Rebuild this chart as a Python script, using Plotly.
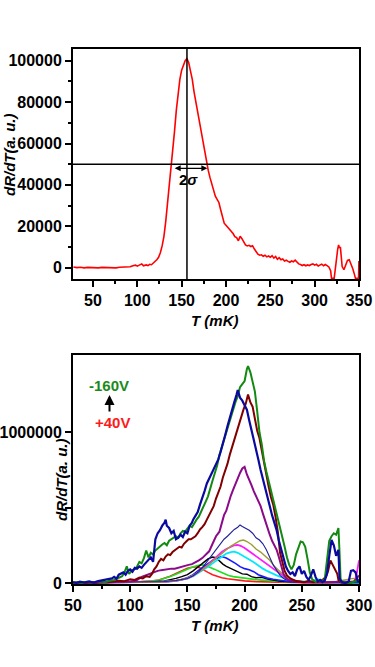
import plotly.graph_objects as go

# ---- top panel: dR/dT of one sample ----
T_TOP = [28, 32, 36, 40, 44, 48, 52, 56, 60, 64, 68, 72, 76, 80, 84, 88, 92, 95, 98, 100,
         103, 105, 107, 110, 112, 114, 116, 118, 120, 122, 124, 126, 128, 130, 132, 134, 136, 138, 140, 142,
         144, 146, 148, 150, 152, 154, 156, 158, 160, 162, 164, 166, 168, 170, 172, 174, 176, 178, 180, 182,
         184, 186, 188, 190, 192, 194, 196, 198, 200, 202, 204, 206, 208, 210, 212, 214, 216, 218, 220, 222,
         224, 226, 228, 230, 232, 234, 236, 238, 240, 242, 244, 246, 248, 250, 252, 254, 256, 258, 260, 262,
         264, 266, 268, 270, 272, 274, 276, 278, 280, 282, 284, 286, 288, 290, 292, 294, 296, 298, 300, 302,
         304, 306, 308, 310, 312, 314, 316, 318, 319, 322, 323, 325, 326, 327, 328, 329, 330, 331, 333, 335,
         337, 339, 341, 343, 345, 346, 349.5, 349.9]
R_TOP = [300, 0, 200, -100, 100, 0, 200, -100, 100, 0, 200, 100, -100, 200, 300, 100, 400, 900, 1200, 700,
         1500, 1800, 900, 1300, 1000, 1600, 1400, 2200, 2900, 3800, 5000, 7200, 10500, 15000, 22000, 30500, 38000, 46000, 56000, 66000,
         76000, 84000, 91000, 95500, 98000, 100000, 101000, 99000, 95000, 91000, 85000, 80000, 76000, 70000, 65000, 60000, 55000, 50500, 47000, 43500,
         40500, 37500, 34500, 33000, 31500, 28000, 24500, 21500, 20500, 19500, 18800, 18000, 16500, 15000, 14500, 13000, 15200, 14000, 12500, 11000,
         10500, 10800, 10200, 10600, 9000, 7500, 6500, 6000, 6200, 5500, 6000, 5200, 5600, 5000, 5800, 4600, 5400, 4000, 4800, 3800,
         4200, 3200, 3600, 3000, 2600, 3200, 2800, 3600, 2400, 1800, 1500, 1000, 1400, 900, 1300, 1000, 1500, 1800, 1200, 1600,
         800, 1300, 1700, 900, 1500, 1000, 300, -1500, -5200, -5200, -1000, 4000, 9000, 11000, 9500, 10000, 4000, 500, -1000, 1500,
         3500, 3800, 2000, -500, -3500, -5200, -5200, 3200]

PEAK_T = 156
HALF_MAX = 50000
SIGMA_LO = 140.5
SIGMA_HI = 179
SIGMA_Y = 48000

# ---- bottom panel: one curve per gate voltage, values in thousands ----
T_RED = [50, 60, 70, 80, 90, 100, 110, 115, 120, 125, 130, 135, 140, 145, 150, 155, 158, 161, 164, 168,
         172, 176, 180, 185, 190, 195, 200, 210, 220, 230, 240, 250, 260, 270, 280, 290, 300]
V_RED = [2, 0, 3, 1, 4, 5, 8, 10, 14, 20, 30, 45, 62, 82, 98, 106, 108, 100, 86, 70,
         55, 44, 35, 28, 22, 17, 14, 9, 6, 4, 3, 2, 2, 1, 2, 1, 0]

T_GREEN = [50, 60, 70, 80, 90, 100, 110, 115, 120, 125, 130, 135, 140, 145, 150, 155, 160, 163, 166, 170,
           174, 178, 182, 186, 190, 195, 200, 205, 210, 215, 220, 230, 240, 250, 260, 270, 280, 290, 300]
V_GREEN = [0, 3, 1, 4, 2, 5, 7, 9, 12, 18, 28, 42, 58, 75, 92, 108, 118, 120, 115, 105,
           90, 76, 62, 50, 42, 36, 31, 26, 22, 19, 16, 11, 7, 5, 3, 4, 2, 3, 1]

T_BLACK = [50, 70, 90, 110, 120, 130, 135, 140, 145, 150, 155, 160, 164, 168, 172, 175, 178, 181, 184, 187,
           190, 194, 198, 202, 206, 210, 215, 220, 225, 230, 240, 250, 260, 270, 280, 290, 300]
V_BLACK = [1, 2, 3, 5, 8, 14, 20, 30, 42, 55, 80, 108, 135, 160, 172, 168, 145, 125, 110, 100,
           90, 75, 60, 58, 42, 35, 38, 25, 18, 12, 8, 5, 4, 3, 2, 2, 1]

T_BLUE = [50, 70, 90, 110, 120, 130, 140, 145, 150, 155, 160, 164, 168, 172, 176, 180, 184, 188, 192, 196,
          200, 204, 208, 212, 216, 220, 225, 230, 235, 240, 250, 260, 270, 280, 290, 300]
V_BLUE = [1, 2, 3, 4, 6, 9, 15, 22, 35, 55, 85, 108, 128, 150, 165, 175, 165, 150, 130, 108,
          95, 88, 75, 55, 45, 32, 25, 18, 12, 8, 5, 10, 6, 3, 2, 1]

T_CYAN = [50, 70, 90, 110, 130, 140, 150, 155, 160, 164, 168, 172, 176, 180, 184, 188, 191, 194, 197, 200,
          204, 208, 212, 216, 220, 224, 228, 232, 236, 240, 245, 250, 255, 260, 264, 268, 272, 280, 290, 300]
V_CYAN = [1, 2, 3, 4, 8, 14, 28, 45, 68, 88, 108, 130, 152, 175, 195, 205, 208, 200, 188, 175,
          155, 138, 115, 95, 78, 62, 50, 38, 28, 20, 14, 10, 8, 15, 25, 12, 5, 3, 2, 1]

T_MAGENTA = [50, 70, 90, 110, 130, 140, 150, 155, 160, 164, 168, 172, 176, 180, 184, 188, 191, 194, 197, 200,
             204, 208, 212, 216, 220, 224, 228, 232, 236, 240, 250, 260, 270, 280, 290, 296, 298, 300]
V_MAGENTA = [1, 2, 3, 4, 8, 14, 30, 48, 72, 95, 120, 148, 180, 205, 225, 240, 250, 252, 245, 232,
             210, 190, 168, 145, 125, 100, 80, 55, 35, 20, 8, 5, 3, 2, 3, 10, 60, 150]

T_OLIVE = [50, 70, 90, 110, 130, 140, 150, 155, 160, 164, 168, 172, 176, 180, 184, 188, 192, 196, 199, 202,
           206, 210, 214, 218, 222, 226, 230, 234, 238, 242, 250, 260, 270, 280, 290, 295, 300]
V_OLIVE = [1, 2, 3, 4, 8, 15, 32, 50, 72, 92, 118, 145, 170, 195, 220, 245, 265, 280, 285, 275,
           255, 225, 205, 175, 150, 110, 80, 55, 35, 20, 8, 5, 3, 10, 25, 30, 20]

T_NAVY = [50, 70, 90, 110, 130, 140, 150, 155, 160, 164, 167, 170, 173, 176, 179, 182, 185, 188, 191, 194,
          196, 198, 201, 204, 207, 210, 213, 216, 219, 222, 225, 228, 231, 235, 240, 250, 260, 270, 280, 290, 300]
V_NAVY = [1, 2, 3, 5, 10, 16, 30, 48, 75, 110, 140, 170, 200, 225, 260, 290, 310, 335, 355, 370,
          385, 375, 365, 350, 330, 300, 285, 260, 220, 170, 120, 85, 50, 25, 12, 6, 4, 3, 2, 2, 1]

T_PURPLE = [50, 60, 70, 80, 90, 100, 105, 110, 115, 118, 121, 124, 127, 130, 133, 136, 139, 142, 145, 148,
            151, 154, 157, 160, 163, 166, 169, 172, 175, 178, 180, 182, 184, 186, 188, 190, 192, 194, 196, 198,
            200, 202, 204, 206, 208, 210, 212, 214, 216, 218, 220, 222, 224, 226, 228, 230, 232, 234, 236, 238,
            242, 246, 250, 260, 270, 280, 290, 296, 300]
V_PURPLE = [0, 3, 0, 5, 8, 10, 15, 40, 55, 60, 70, 80, 85, 90, 90, 95, 95, 100, 105, 110,
            120, 125, 135, 150, 165, 185, 210, 260, 310, 340, 400, 450, 480, 540, 580, 620, 660, 700, 730, 760,
            770, 720, 690, 650, 610, 580, 550, 510, 460, 410, 360, 320, 280, 250, 220, 170, 110, 60, 35, 20,
            15, 8, 5, 3, 5, 8, 5, 10, 50]

T_MAROON = [50, 55, 60, 65, 70, 75, 80, 85, 90, 95, 100, 104, 108, 111, 114, 117, 119, 121, 123, 125,
            127, 129, 131, 133, 135, 137, 139, 141, 143, 145, 147, 149, 151, 153, 155, 157, 159, 161, 163, 165,
            167, 169, 171, 173, 175, 177, 179, 181, 183, 185, 187, 189, 191, 193, 195, 197, 199, 201, 203, 205,
            207, 209, 211, 213, 215, 217, 219, 221, 223, 225, 227, 229, 231, 233, 235, 237, 240, 244, 248, 252,
            256, 260, 264, 268, 271, 273, 275, 277, 279, 281, 282, 284, 290, 295, 300]
V_MAROON = [0, 3, 0, 5, 2, 8, 5, 10, 15, 12, 25, 20, 35, 30, 45, 40, 60, 90, 110, 140,
            160, 150, 175, 190, 185, 205, 215, 230, 240, 235, 260, 275, 290, 290, 300, 310, 330, 355, 370, 390,
            420, 450, 480, 510, 560, 600, 640, 700, 740, 790, 850, 900, 960, 1010, 1060, 1100, 1150, 1190, 1250, 1200,
            1170, 1090, 1010, 960, 880, 800, 700, 640, 570, 520, 440, 340, 200, 130, 80, 50, 30, 15, 10, 5,
            15, 5, 10, 20, 40, 80, 150, 120, 90, 60, 20, 5, 0, 10, 15]

T_GREEN160 = [50, 54, 58, 62, 66, 70, 74, 78, 82, 86, 90, 93, 95, 97, 99, 102, 105, 108, 110, 112,
              114, 116, 118, 120, 122, 124, 126, 128, 130, 132, 134, 136, 138, 140, 142, 144, 146, 148, 150, 152,
              154, 156, 158, 160, 162, 164, 166, 168, 170, 172, 174, 176, 178, 180, 182, 184, 186, 188, 190, 192,
              194, 196, 198, 200, 202, 203, 205, 207, 209, 211, 213, 215, 217, 219, 221, 223, 225, 227, 229, 231,
              233, 235, 237, 239, 241, 243, 245, 247, 249, 251, 253, 255, 257, 259, 262, 266, 270, 272, 274, 276,
              278, 280, 282, 283, 284, 288, 292, 296, 300]
V_GREEN160 = [2, 5, 0, 8, 3, 6, 10, 4, 15, 20, 35, 45, 70, 110, 60, 85, 95, 140, 130, 165,
              215, 170, 200, 190, 215, 230, 245, 255, 265, 250, 280, 290, 300, 310, 300, 330, 345, 340, 360, 380,
              370, 400, 420, 440, 470, 505, 540, 575, 620, 680, 730, 780, 850, 900, 960, 1010, 1060, 1110, 1160, 1200,
              1240, 1300, 1320, 1340, 1420, 1440, 1400, 1330, 1270, 1140, 1000, 920, 810, 740, 680, 610, 560, 500, 430, 370,
              310, 240, 170, 120, 90, 120, 190, 240, 275, 270, 240, 160, 70, 25, 8, 15, 20, 150, 280, 310,
              330, 320, 365, 200, 10, 5, 0, 10, 20]

T_NAVY160 = [50, 53, 56, 60, 64, 68, 72, 76, 80, 84, 86, 88, 90, 92, 94, 96, 98, 100, 102, 104,
             106, 108, 110, 112, 114, 116, 118, 120, 121, 122, 124, 126, 128, 130, 131, 132, 134, 136, 138, 140,
             142, 144, 146, 148, 150, 152, 154, 155, 157, 159, 161, 163, 165, 167, 169, 171, 173, 175, 177, 179,
             181, 183, 185, 187, 189, 191, 193, 194, 196, 198, 200, 202, 204, 206, 208, 210, 212, 214, 216, 218,
             220, 222, 224, 226, 228, 230, 232, 234, 236, 238, 240, 242, 244, 246, 248, 250, 252, 254, 256, 258,
             260, 262, 264, 266, 268, 270, 272, 274, 276, 278, 280, 282, 283, 285, 288, 291, 293, 295, 297, 299, 300]
V_NAVY160 = [5, 0, 8, 3, 10, 2, 12, 18, 25, 30, 40, 28, 55, 60, 70, 55, 80, 90, 75, 100,
             95, 110, 100, 120, 135, 150, 170, 140, 230, 290, 330, 350, 380, 400, 420, 380, 365, 330, 345, 290,
             300, 320, 305, 340, 330, 380, 400, 420, 445, 470, 520, 560, 610, 660, 690, 720, 760, 780, 820, 870,
             920, 980, 1040, 1100, 1150, 1200, 1250, 1280, 1230, 1210, 1180, 1150, 1080, 1020, 950, 880, 820, 750, 690, 630,
             560, 500, 450, 400, 350, 280, 220, 160, 110, 80, 60, 70, 45, 90, 110, 60, 80, 40, 20, 50,
             90, 40, 10, 20, 5, 15, 60, 180, 285, 250, 180, 220, 30, 5, 0, 10, 80, 85, 70, 10, 5]

# drawing order, colour, line width
BOTTOM = [
    (T_RED, V_RED, '#ff1a1a', 1.6),
    (T_GREEN, V_GREEN, '#1ee01e', 1.6),
    (T_BLACK, V_BLACK, '#000000', 1.4),
    (T_BLUE, V_BLUE, '#1a1aff', 1.6),
    (T_CYAN, V_CYAN, '#00e8ff', 1.8),
    (T_MAGENTA, V_MAGENTA, '#ff1aff', 1.8),
    (T_OLIVE, V_OLIVE, '#9c9c33', 1.4),
    (T_NAVY, V_NAVY, '#1f1f99', 1.1),
    (T_PURPLE, V_PURPLE, '#8a0a8a', 2),
    (T_MAROON, V_MAROON, '#800000', 2),
    (T_GREEN160, V_GREEN160, '#128a12', 2),
    (T_NAVY160, V_NAVY160, '#0a0aa0', 2.2),
]

FONT = 'Liberation Sans, Arial, sans-serif'
W, H = 375, 667
px = lambda x: x / W
py = lambda y: 1 - y / H

fig = go.Figure()
fig.add_trace(go.Scatter(x=T_TOP, y=R_TOP, mode='lines', line=dict(color='#ff0000', width=1.6),
                         xaxis='x', yaxis='y', showlegend=False))
for t, v, color, width in BOTTOM:
  fig.add_trace(go.Scatter(x=t, y=[k * 1000 for k in v], mode='lines', line=dict(color=color, width=width),
                           xaxis='x2', yaxis='y2', showlegend=False))

tickfont = dict(family=FONT, size=16, color='black', weight='bold')
common = dict(showline=True, linecolor='black', linewidth=2, mirror=True, ticks='outside', ticklen=6,
              tickwidth=2, tickcolor='black', showgrid=False, zeroline=False, tickfont=tickfont,
              automargin=False)
minor = lambda d: dict(dtick=d, ticks='outside', ticklen=3, tickwidth=2, tickcolor='black', showgrid=False)

fig.update_layout(
  width=W, height=H,
  margin=dict(l=0, r=0, t=0, b=0),
  paper_bgcolor='white', plot_bgcolor='white',
  xaxis=dict(domain=[px(73), px(359)], anchor='y', range=[27.5, 350], tick0=50, dtick=50,
             minor=minor(25), **common),
  yaxis=dict(domain=[py(279), py(49)], anchor='x', range=[-5500, 105700], tick0=0, dtick=20000,
             tickformat='d', minor=minor(10000), **common),
  xaxis2=dict(domain=[px(73), px(359)], anchor='y2', range=[50, 300], tick0=50, dtick=50,
              minor=minor(25), **common),
  yaxis2=dict(domain=[py(584), py(355)], anchor='x2', range=[-7000, 1513000],
              tickvals=[0, 500000, 1000000], ticktext=['0', '', '1000000'], **common),
)

# FWHM guides on the top panel
fig.add_shape(type='line', xref='x', yref='y domain', x0=PEAK_T, x1=PEAK_T, y0=0, y1=1,
              line=dict(color='black', width=1.5))
fig.add_shape(type='line', xref='x domain', yref='y', x0=0, x1=1, y0=HALF_MAX, y1=HALF_MAX,
              line=dict(color='black', width=1.5))
fig.add_annotation(xref='x', yref='y', x=SIGMA_HI, y=SIGMA_Y, axref='x', ayref='y', ax=SIGMA_LO, ay=SIGMA_Y,
                   text='', showarrow=True, arrowhead=2, arrowside='end+start', arrowsize=1, arrowwidth=1.2,
                   arrowcolor='black')
fig.add_annotation(xref='x', yref='y', x=157.5, y=42400, text='<b>2<i>σ</i></b>', showarrow=False,
                   xanchor='center', yanchor='middle', font=dict(family=FONT, size=15, color='black'))

titlefont = dict(family=FONT, size=15, color='black')
def label(x, y, text, font, angle=0):
  fig.add_annotation(xref='paper', yref='paper', x=px(x), y=py(y), text=text, textangle=angle,
                     showarrow=False, xanchor='center', yanchor='middle', font=font)

label(215, 320, '<b><i>T (mK)</i></b>', titlefont)
label(215, 625, '<b><i>T (mK)</i></b>', titlefont)
label(9, 155, '<b><i>dR/dT(a. u.)</i></b>', titlefont, -90)
label(61, 479, '<b><i>dR/dT(a. u.)</i></b>', titlefont, -90)

# gate-voltage labels
label(109, 385, '<b>-160V</b>', dict(family=FONT, size=15, color='#1a8a1a'))
label(112, 422, '<b>+40V</b>', dict(family=FONT, size=15, color='#ff1a1a'))
fig.add_annotation(xref='paper', yref='paper', x=px(109.5), y=py(395), ax=0, ay=18, text='',
                   showarrow=True, arrowhead=2, arrowsize=1, arrowwidth=2, arrowcolor='black')

# drop the default 8px page margin so the figure fills the window
fig.write_html('out.html', config={'displayModeBar': False},
               post_script="document.body.style.margin='0';")
